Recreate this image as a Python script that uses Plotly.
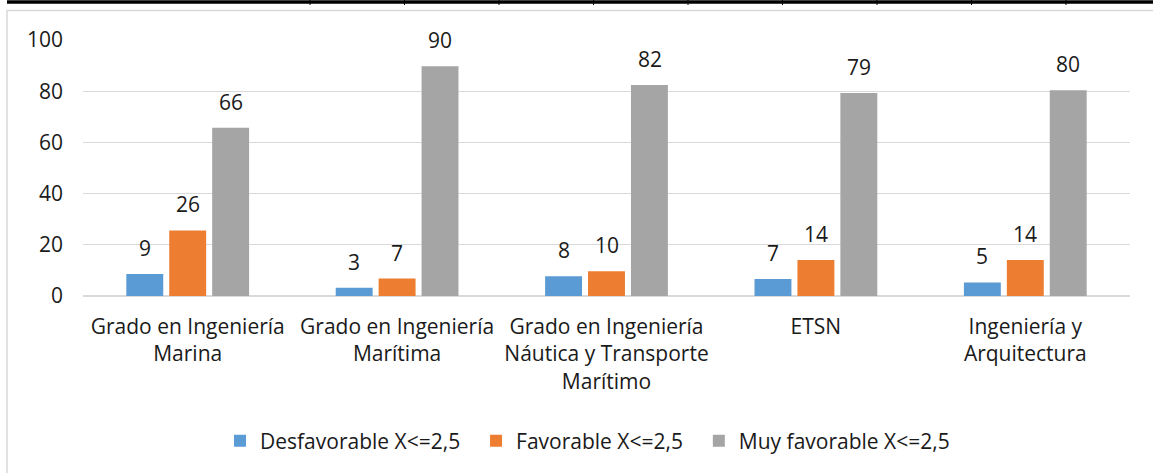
import plotly.graph_objects as go

# categories (wrapped like the original axis labels)
categories = [
    "Grado en Ingeniería<br>Marina",
    "Grado en Ingeniería<br>Marítima",
    "Grado en Ingeniería<br>Náutica y Transporte<br>Marítimo",
    "ETSN",
    "Ingeniería y<br>Arquitectura",
]
desfavorable = [8.6, 3.2, 7.7, 6.6, 5.3]
favorable = [25.6, 6.8, 9.7, 14.1, 14.1]
muy_favorable = [65.7, 89.7, 82.4, 79.3, 80.4]

series = [
    ("Desfavorable X<=2,5", desfavorable, "#5b9bd5"),
    ("Favorable X<=2,5", favorable, "#ed7d31"),
    ("Muy favorable X<=2,5", muy_favorable, "#a5a5a5"),
]

W, H = 1153, 473
ML, MT, MR, MB = 83, 40, 23, 177
PW, PH = W - ML - MR, H - MT - MB
FONT = "Open Sans"
FS = 21
PAD = "\u00a0\u00a0"  # a little extra room between legend entries


def px_x(p):
    # image pixel -> paper coordinate
    return (p - ML) / PW


def px_y(p):
    return (H - MB - p) / PH


fig = go.Figure()
for name, vals, color in series:
    fig.add_trace(go.Bar(x=categories, y=vals, name=name + PAD, marker_color=color,
                         marker_line_width=0))

# data labels above the bars
offsets = [-43, 0, 43]
for (name, vals, color), dx in zip(series, offsets):
    for cat, v in zip(categories, vals):
        fig.add_annotation(x=cat, y=v, text=f"{v:.0f}", showarrow=False,
                           xref="x", yref="y", yanchor="bottom", xshift=dx, yshift=10,
                           font=dict(family=FONT, size=FS, color="#1a1a1a"))

# chart frame and the table border above it
shapes = [
    dict(type="rect", xref="paper", yref="paper",
         x0=px_x(7), x1=px_x(1170), y0=px_y(10.5), y1=px_y(490),
         line=dict(color="#d9d9d9", width=1.5), fillcolor="rgba(0,0,0,0)", layer="below"),
    dict(type="line", xref="paper", yref="paper",
         x0=px_x(7), x1=px_x(1170), y0=px_y(2), y1=px_y(2),
         line=dict(color="black", width=3.5)),
]
for k in range(9):
    xp = px_x(310 + 94.5 * k)
    shapes.append(dict(type="line", xref="paper", yref="paper",
                       x0=xp, x1=xp, y0=px_y(0), y1=px_y(5),
                       line=dict(color="black", width=1)))

fig.update_layout(
    width=W, height=H,
    margin=dict(l=ML, r=MR, t=MT, b=MB),
    paper_bgcolor="white", plot_bgcolor="white",
    font=dict(family=FONT, size=FS, color="#1a1a1a"),
    barmode="group", bargap=0.385, bargroupgap=0.14,
    showlegend=True,
    legend=dict(orientation="h", x=px_x(593), xanchor="center", y=px_y(441), yanchor="middle",
                font=dict(family=FONT, size=FS), itemwidth=30, traceorder="normal"),
    shapes=shapes,
)
fig.update_yaxes(range=[0, 100], dtick=20, showgrid=True, gridcolor="#d9d9d9", gridwidth=1,
                 zeroline=True, zerolinecolor="#d9d9d9", zerolinewidth=1.5, showline=False,
                 ticklabelstandoff=19, tickfont=dict(size=FS))
fig.update_xaxes(showline=False, ticks="", ticklabelstandoff=16, tickfont=dict(size=FS),
                 tickangle=0)

# drop the browser's default 8px body margin so the figure sits at the page corner
fig.write_html("out.html", config={"displayModeBar": False},
               post_script="document.body.style.margin='0';")
